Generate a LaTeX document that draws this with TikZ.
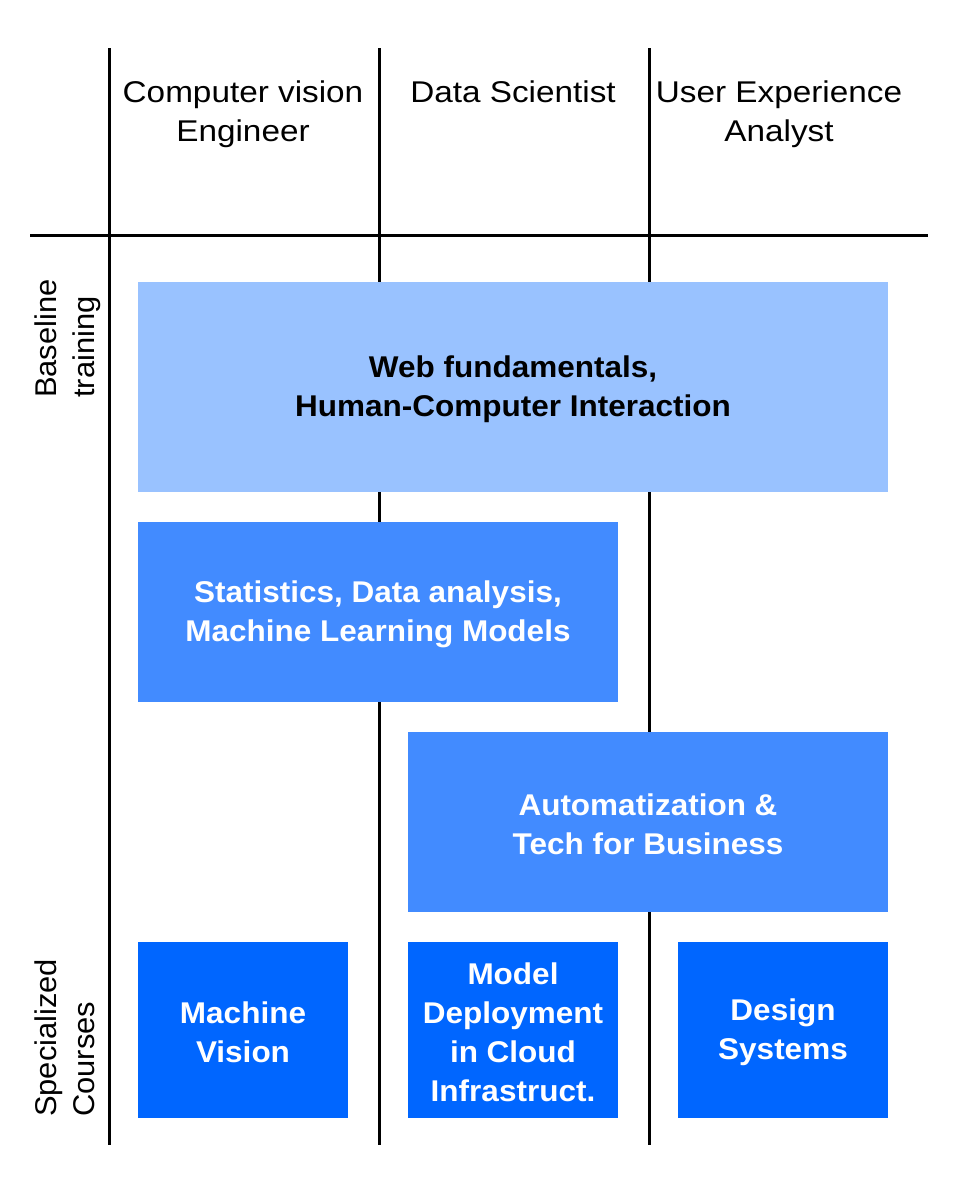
\documentclass[tikz,border=0pt]{standalone}
\usepackage{fontspec}
\setmainfont{Liberation Sans}
\newfontfamily\hdrfont[FakeStretch=1.11]{Liberation Sans}
\newfontfamily\sidefont[FakeStretch=1.03]{Liberation Sans}
\newfontfamily\boxfont[FakeStretch=1.05]{Liberation Sans}
\newcommand\firstlinestrut{\rule{0pt}{27pt}}
\definecolor{lightblue}{HTML}{99C2FF}
\definecolor{midblue}{HTML}{428BFF}
\definecolor{darkblue}{HTML}{0066FF}
\begin{document}
\begin{tikzpicture}[x=1pt,y=-1pt,
  gridline/.style={line width=3pt,black},
  hdr/.style={anchor=north,align=center,inner sep=0pt,font=\hdrfont\fontsize{30}{39}\selectfont},
  sidelabel/.style={rotate=90,anchor=north west,align=left,inner sep=0pt,font=\sidefont\fontsize{30}{38}\selectfont},
  course/.style={inner sep=0pt,align=center,text=white,font=\boxfont\bfseries\fontsize{30}{39}\selectfont},
  wide/.style={course,minimum width=480pt,minimum height=180pt},
  small/.style={course,fill=darkblue,minimum width=210pt,minimum height=176pt}]
\useasboundingbox (0,0) rectangle (960,1194);
% grid
\draw[gridline] (109,48) -- (109,1145);
\draw[gridline] (379,48) -- (379,1145);
\draw[gridline] (649,48) -- (649,1145);
\draw[gridline] (30,235) -- (928,235);
% headers
\node[hdr] (h1) at (243,81) {Computer vision\\Engineer};
\node[hdr] (h2) at (513,81) {Data Scientist};
\node[hdr] (h3) at (779,81) {User Experience\\Analyst};
% side labels
\node[sidelabel] (base) at (35,398) {Baseline\\training};
\node[sidelabel] (spec) at (35,1117) {Specialized\\Courses};
% boxes
\node[course,fill=lightblue,text=black,minimum width=750pt,minimum height=210pt] (web) at (513,387) {\firstlinestrut Web fundamentals,\\Human-Computer Interaction};
\node[wide,fill=midblue] (stats) at (378,612) {\firstlinestrut Statistics, Data analysis,\\Machine Learning Models};
\node[wide,fill=midblue] (auto) at (648,822) {\firstlinestrut Automatization \&\\Tech for Business};
\node[small] (mv) at (243,1030) {\firstlinestrut Machine\\Vision};
\node[small] (md) at (513,1030) {\firstlinestrut Model\\Deployment\\in Cloud\\Infrastruct.};
\node[small] (ds) at (783,1030) {\firstlinestrut Design\\Systems};
\end{tikzpicture}
\end{document}
